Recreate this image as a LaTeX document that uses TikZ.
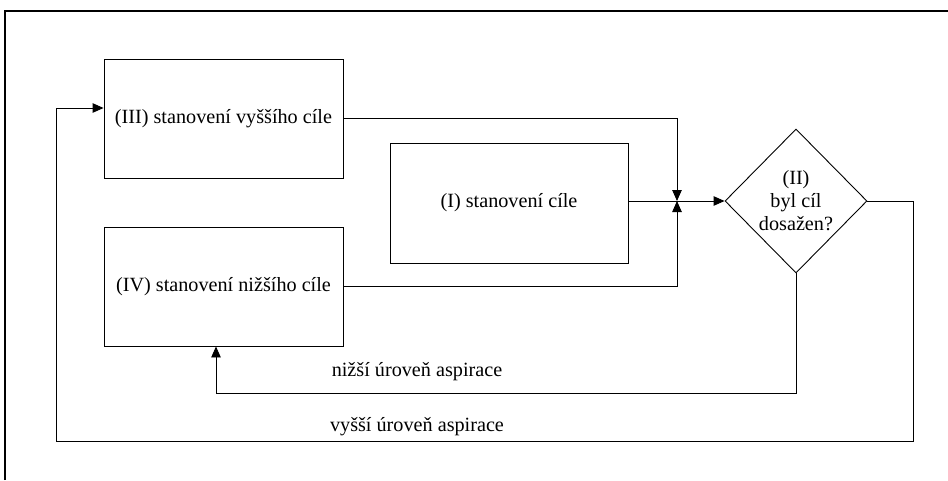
\documentclass[tikz,border=0pt]{standalone}
\usepackage{fontspec}
\setmainfont{Liberation Serif}
\usetikzlibrary{arrows.meta,shapes.geometric}
\tikzset{
  box/.style={draw, line width=0.9pt, rectangle, minimum width=239pt, minimum height=119pt, inner sep=0pt},
  decision/.style={draw, line width=0.9pt, diamond, minimum width=142pt, minimum height=144pt, inner sep=0pt, align=center},
  link/.style={line width=0.9pt},
  flow/.style={link, -{Triangle[length=11pt,width=9.5pt]}},
  lbl/.style={inner sep=0pt}
}
\begin{document}
\begin{tikzpicture}[x=1pt, y=-1pt, font=\rmfamily\fontsize{20.2}{23}\selectfont]
  \useasboundingbox (0,0) rectangle (948,480);
  % outer frame
  \draw[line width=1.2pt] (5,480) -- (5,11) -- (948,11);

  % process boxes and the decision
  \node[box] (III) at (223.5,118.5) {(III) stanovení vyššího cíle};
  \node[box] (IV)  at (223.5,286.5) {(IV) stanovení nižšího cíle};
  \node[box, minimum width=238pt, minimum height=120pt] (I) at (509,203) {(I) stanovení cíle};
  \node[decision] (II) at (796,201) {(II)\\byl cíl\\dosažen?};

  % merge point in front of the decision
  \coordinate (j) at (677,201);
  \draw[flow] (III.east) -| (j);
  \draw[flow] (IV.east) -| (j);
  \draw[flow] (I.east |- j) -- (II.west);

  % feedback: lower aspiration level
  \coordinate (lowR) at (796,393);
  \coordinate (lowL) at (216,393);
  \draw[flow] (II.south) -- (lowR) -- (lowL) -- (IV.south -| lowL);
  \node[lbl] (nl) at (417,372) {nižší úroveň aspirace};

  % feedback: higher aspiration level
  \coordinate (hiR) at (913,441);
  \coordinate (hiL) at (56,441);
  \coordinate (hiIn) at (56,108);
  \draw[flow] (II.east) -| (hiR) -- (hiL) -- (hiIn) -- (III.west |- hiIn);
  \node[lbl] (vl) at (417,427) {vyšší úroveň aspirace};
\end{tikzpicture}
\end{document}
